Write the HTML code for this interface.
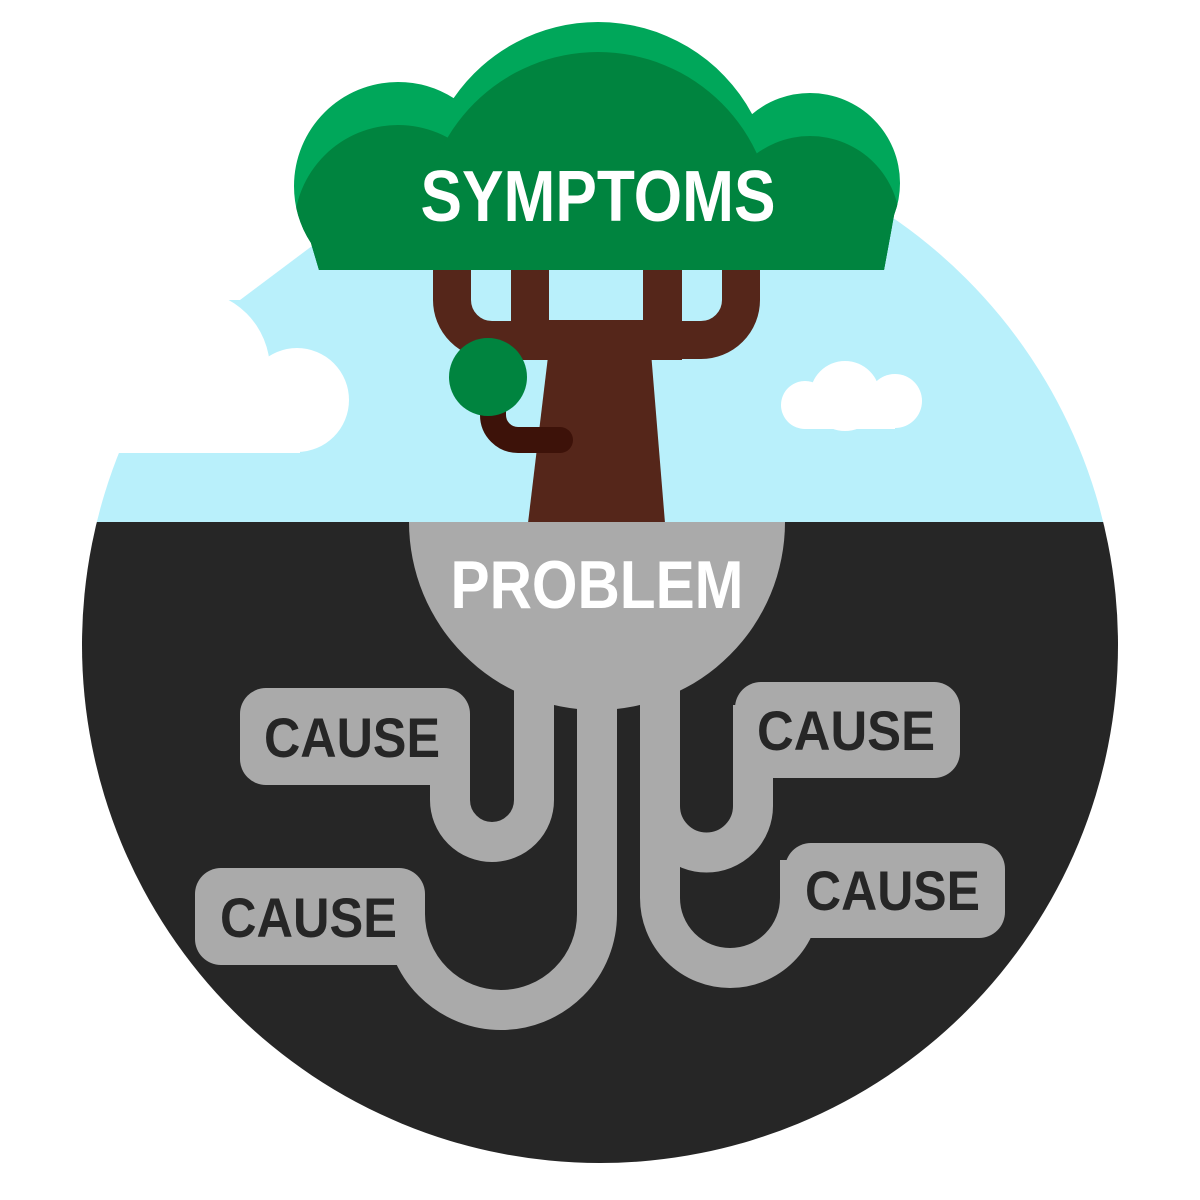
<!DOCTYPE html>
<html><head><meta charset="utf-8"><style>html,body{margin:0;padding:0;background:#fff}svg{display:block}</style></head>
<body>
<svg width="1200" height="1200" viewBox="0 0 1200 1200" xmlns="http://www.w3.org/2000/svg">
<defs>
<clipPath id="circ"><circle cx="600" cy="645" r="518"/></clipPath>
<clipPath id="top"><rect x="0" y="0" width="1200" height="270"/></clipPath>
<clipPath id="canopy">
<circle cx="398" cy="186" r="104"/>
<circle cx="598" cy="197" r="175"/>
<circle cx="810" cy="183" r="90"/>
<polygon points="294,186 900,183 884,270 319,270"/>
</clipPath>
</defs>
<g clip-path="url(#circ)">
<rect x="0" y="0" width="1200" height="522" fill="#b9f0fb"/>
<rect x="0" y="522" width="1200" height="700" fill="#262626"/>
</g>
<g fill="#ffffff">
<circle cx="190" cy="370" r="80"/>
<circle cx="297" cy="400" r="52"/>
<rect x="0" y="370" width="300" height="83"/>
<polygon points="0,0 320,0 320,240 240,300 0,300"/>
</g>
<g fill="#ffffff">
<circle cx="845" cy="396" r="35"/>
<circle cx="805" cy="405" r="24"/>
<circle cx="895" cy="401" r="27"/>
<rect x="805" y="400" width="90" height="29"/>
</g>
<g fill="#55261a">
<polygon points="550,340 650,340 665,523 528,523"/>
<rect x="511" y="262" width="38" height="80"/>
<rect x="643" y="262" width="39" height="80"/>
<rect x="511" y="320" width="171" height="40"/>
</g>
<g fill="none" stroke="#55261a" stroke-width="38">
<path d="M452,262 V300 A40 40 0 0 0 492 340 H560"/>
<path d="M741,262 V300 A40 40 0 0 1 701 340 H640"/>
</g>
<path d="M493,400 V415 A25 25 0 0 0 518 440 H560" fill="none" stroke="#3d1209" stroke-width="26" stroke-linecap="round"/>
<circle cx="488" cy="377" r="39" fill="#00843f"/>
<g clip-path="url(#top)">
<g clip-path="url(#canopy)">
<rect x="280" y="0" width="640" height="280" fill="#00a75a"/>
<g fill="#00843f">
<circle cx="398" cy="229" r="104"/>
<circle cx="598" cy="227" r="175"/>
<circle cx="810" cy="226" r="90"/>
<rect x="280" y="226" width="640" height="60"/>
</g>
</g>
</g>
<text x="598" y="221" text-anchor="middle" font-family="Liberation Sans, sans-serif" font-weight="bold" font-size="72" fill="#fff" textLength="355" lengthAdjust="spacingAndGlyphs">SYMPTOMS</text>
<g fill="#aaaaaa">
<path d="M409,522 A188 188 0 0 0 785 522 Z"/>
<rect x="240" y="688" width="230" height="97" rx="26"/>
<rect x="735" y="682" width="225" height="96" rx="26"/>
<rect x="195" y="868" width="230" height="97" rx="26"/>
<rect x="785" y="843" width="220" height="95" rx="26"/>
</g>
<g fill="none" stroke="#aaaaaa" stroke-width="40">
<path d="M450,740 V800 A42 42 0 0 0 534 800 V650"/>
<path d="M405,910 V914 A96 96 0 0 0 597 914 V650"/>
<path d="M660,650 V898 A70 70 0 0 0 800 898 V860"/>
<path d="M660,760 V806 A46.5 46.5 0 0 0 753 806 V705"/>
</g>
<text x="597" y="608" text-anchor="middle" font-family="Liberation Sans, sans-serif" font-weight="bold" font-size="68" fill="#fff" textLength="293" lengthAdjust="spacingAndGlyphs">PROBLEM</text>
<g font-family="Liberation Sans, sans-serif" font-weight="bold" font-size="56" fill="#262626">
<text x="264" y="757" textLength="176" lengthAdjust="spacingAndGlyphs">CAUSE</text>
<text x="757" y="750" textLength="178" lengthAdjust="spacingAndGlyphs">CAUSE</text>
<text x="220" y="937" textLength="177" lengthAdjust="spacingAndGlyphs">CAUSE</text>
<text x="805" y="910" textLength="175" lengthAdjust="spacingAndGlyphs">CAUSE</text>
</g>
</svg>
</body></html>
